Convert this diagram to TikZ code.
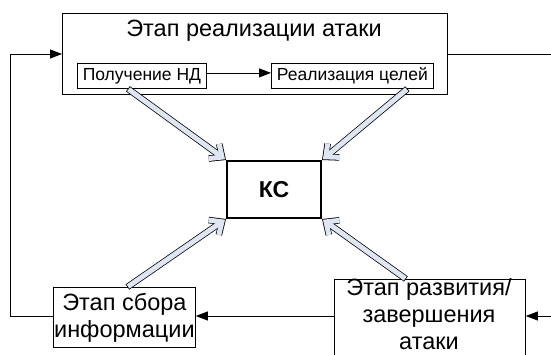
\documentclass[tikz,border=0pt]{standalone}
\usepackage{fontspec}
\setmainfont{Liberation Sans}
\usetikzlibrary{arrows.meta,calc}
\definecolor{hollowfill}{RGB}{221,230,242}
\newcommand\hollowarrow[2]{%
  \draw[line width=6.5pt,-{Straight Barb[length=10pt,width=18pt]}] (#1) -- (#2);
  \draw[line width=5pt,hollowfill,shorten <=0.8pt,shorten >=1.2pt,-{Straight Barb[length=10pt,width=18pt]}] (#1) -- (#2);
}
\begin{document}
\begin{tikzpicture}[x=1pt,y=-1pt,
  box/.style={draw, line width=0.8pt, inner sep=0pt, anchor=north west, align=center},
  conn/.style={line width=0.8pt, -{Triangle[length=12pt,width=9pt]}},
  plain/.style={line width=0.8pt},
  big/.style={font=\fontsize{23.5}{27}\selectfont},
  small/.style={font=\fontsize{17.5}{20}\selectfont}]
\useasboundingbox (0,0) rectangle (551,354);
% top stage
\node[box, minimum width=385pt, minimum height=81pt] (outer) at (62,13) {};
\node[big] (title) at (254,31) {Этап реализации атаки};
\node[box, small, minimum width=129pt, minimum height=25pt] (nd) at (77,63) {Получение НД};
\node[box, small, minimum width=162pt, minimum height=25pt] (goal) at (271,63) {Реализация целей};
% centre
\node[box, line width=2pt, minimum width=94pt, minimum height=57pt, font=\fontsize{23}{26}\selectfont\bfseries] (ks) at (226,160) {КС};
% bottom stages
\node[box, big, minimum width=142pt, minimum height=60pt] (collect) at (53,287) {Этап сбора\\информации};
\node[box, minimum width=191pt, minimum height=85pt] (dev) at (334,279) {};
\node[big, align=center] (devtext) at (429,314) {Этап развития/\\завершения\\атаки};
% coordinates at the picture edge
\coordinate (leftcorner1) at (10,54);
\coordinate (leftcorner2) at (10,316);
\coordinate (rightend) at (551,54);
\coordinate (rightin) at (551,316);
% connectors
\draw[conn] ($(nd.east)+(0,-3)$) -- ($(goal.west)+(0,-3)$);
\draw[conn] (collect.west |- leftcorner2) -- (leftcorner2) -- (leftcorner1) -- (outer.west |- leftcorner1);
\draw[plain] (outer.east |- rightend) -- (rightend);
\draw[conn] (rightin) -- (dev.east |- rightin);
\draw[conn] (dev.west |- rightin) -- (collect.east |- rightin);
% hollow arrows
\hollowarrow{$(nd.south)+(-14,0)$}{ks.north west}
\hollowarrow{$(goal.south)+(55,0)$}{ks.north east}
\hollowarrow{$(collect.north)+(3,0)$}{ks.south west}
\hollowarrow{$(dev.north)+(-24,0)$}{ks.south east}
\end{tikzpicture}
\end{document}
